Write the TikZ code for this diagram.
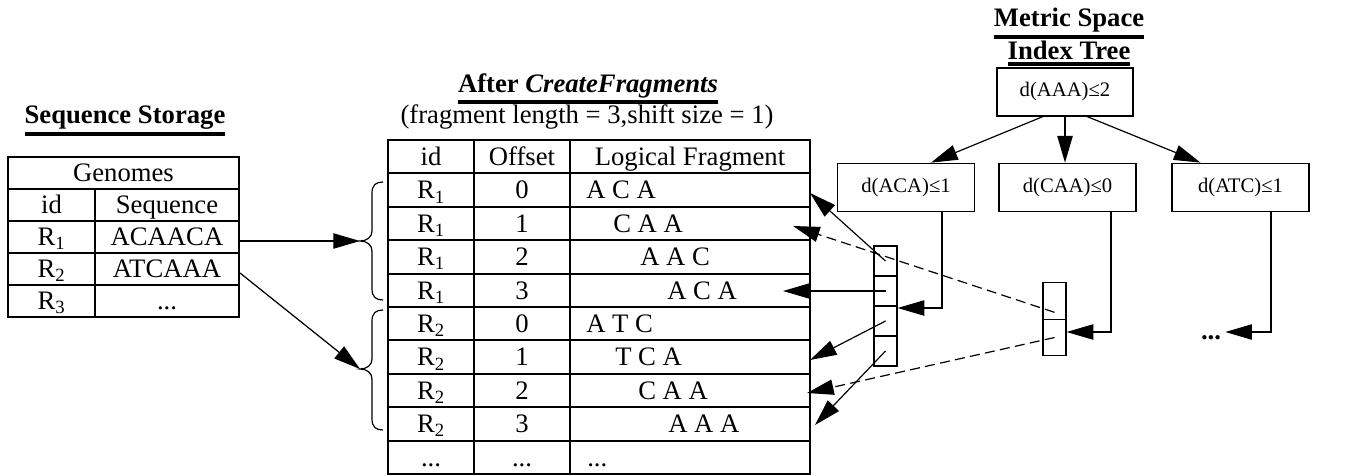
\documentclass[tikz,border=0pt]{standalone}
\usepackage{fontspec}
\setmainfont{Liberation Serif}
\usetikzlibrary{arrows.meta,calc}
\newcommand\myul[1]{\leavevmode\vtop{\hbox{#1}\kern2pt\hrule height 3pt}}
\newcommand\tdots{...}
\begin{document}
\begin{tikzpicture}[x=0.75pt,y=-0.75pt,
  every node/.style={font=\fontsize{20}{24}\selectfont},
  cellbox/.style={draw,line width=1.5pt,inner sep=0pt,text height=13.2pt,text depth=0pt},
  gcell/.style={cellbox,minimum height=24pt},
  fcell/.style={cellbox,minimum height=25.05pt},
  fragtext/.style={anchor=west,inner sep=0pt,text height=13.2pt,text depth=0pt},
  treebox/.style={draw,line width=0.8pt,font=\fontsize{15.5}{18}\selectfont,inner sep=0pt,minimum width=102.75pt,minimum height=36.5pt},
  slot/.style={draw,line width=0.9pt,inner sep=0pt,minimum width=17.25pt},
  arr/.style={line width=0.9pt,-{Triangle[length=20pt,width=11.5pt]}},
  dasharr/.style={arr,dash pattern=on 7.5pt off 4pt},
]
\useasboundingbox (0,0) rectangle (1351,475);

% ---------- titles ----------
\node[anchor=base] (tseq) at (125,123.5) {\myul{\textbf{Sequence Storage}}};
\node[anchor=base] (tfrag) at (588,92) {\myul{\textbf{After \textit{CreateFragments}}}};
\node[anchor=base] (tparam) at (587,123) {(fragment length = 3,shift size = 1)};
\node[anchor=base] (ttree1) at (1069,26.5) {\myul{\textbf{Metric Space}}};
\node[anchor=base] (ttree2) at (1069,59.5) {\myul{\textbf{Index Tree}}};

% ---------- sequence storage table ----------
\node[gcell,minimum width=173.25pt] (gh) at (123.5,173) {Genomes};
\node[gcell,minimum width=65.25pt] (gi) at (51.5,205) {id};
\node[gcell,minimum width=108pt] (gs) at (167,205) {Sequence};
\node[gcell,minimum width=65.25pt] (g1i) at (51.5,237) {R\textsubscript{1}};
\node[gcell,minimum width=108pt] (g1s) at (167,237) {ACAACA};
\node[gcell,minimum width=65.25pt] (g2i) at (51.5,269) {R\textsubscript{2}};
\node[gcell,minimum width=108pt] (g2s) at (167,269) {ATCAAA};
\node[gcell,minimum width=65.25pt] (g3i) at (51.5,301) {R\textsubscript{3}};
\node[gcell,minimum width=108pt] (g3s) at (167,301) {\tdots};

% ---------- fragment table ----------
\node[fcell,minimum width=64.5pt] (fhi) at (431,156.7) {id};
\node[fcell,minimum width=72pt] (fho) at (522,156.7) {Offset};
\node[fcell,minimum width=180pt] (fhc) at (690,156.7) {Logical Fragment};
\foreach \id/\off/\fx/\fr [count=\k] in {%
  R\textsubscript{1}/0/586/A C A,
  R\textsubscript{1}/1/613/C A A,
  R\textsubscript{1}/2/640/A A C,
  R\textsubscript{1}/3/667/A C A,
  R\textsubscript{2}/0/586/A T C,
  R\textsubscript{2}/1/615/T C A,
  R\textsubscript{2}/2/638/C A A,
  R\textsubscript{2}/3/668/A A A,
  \tdots/\tdots/587/\tdots}{
  \pgfmathsetmacro\ry{156.7+33.4*\k}
  \node[fcell,minimum width=64.5pt] (f\k i) at (431,\ry) {\id};
  \node[fcell,minimum width=72pt] (f\k o) at (522,\ry) {\off};
  \node[fcell,minimum width=180pt] (f\k c) at (690,\ry) {};
  \node[fragtext] (f\k t) at (\fx,\ry) {\fr};
}

% ---------- braces ----------
\coordinate (br1) at (360,241);
\coordinate (br2) at (360,369);
\draw[line width=0.9pt] (383,182) .. controls (376,182) and (372,185) .. (372,193) -- (372,231)
  .. controls (372,237) and (367,241) .. (br1) .. controls (367,241) and (372,245) .. (372,251)
  -- (372,289) .. controls (372,297) and (376,300) .. (383,300);
\draw[line width=0.9pt] (383,310) .. controls (376,310) and (372,313) .. (372,321) -- (372,359)
  .. controls (372,365) and (367,369) .. (br2) .. controls (367,369) and (372,373) .. (372,379)
  -- (372,419) .. controls (372,427) and (376,430) .. (383,430);

\draw[arr] (g1s.east |- br1) -- (br1);
\draw[arr] ($(g2s.east)+(0,4)$) -- (br2);

% ---------- index tree ----------
\node[treebox,minimum width=102pt,minimum height=36pt] (root) at (1065,92) {d(AAA)≤2};
\node[treebox] (lc) at (906,187.5) {d(ACA)≤1};
\node[treebox] (mc) at (1067.5,187.5) {d(CAA)≤0};
\node[treebox] (rc) at (1240.5,187.5) {d(ATC)≤1};
\draw[arr] ($(root.south)+(-22,0)$) -- ($(lc.north)+(25,0)$);
\draw[arr] (root.south) -- (root.south |- mc.north);
\draw[arr] ($(root.south)+(22,0)$) -- ($(rc.north)+(-40,0)$);

% ---------- leaf buckets ----------
\node[slot,minimum height=22.5pt] (a1) at (885.5,261) {};
\node[slot,minimum height=22.5pt] (a2) at (885.5,291) {};
\node[slot,minimum height=22.5pt] (a3) at (885.5,321) {};
\node[slot,minimum height=22.5pt] (a4) at (885.5,351) {};
\node[slot,minimum height=27.4pt] (b1) at (1054.5,301) {};
\node[slot,minimum height=27.4pt] (b2) at (1054.5,337.5) {};
\node[anchor=base,inner sep=3pt,font=\fontsize{20}{22}\selectfont\bfseries] (dots) at (1211,339) {\tdots};

\coordinate (cA) at (942,308);
\coordinate (cB) at (1111,332);
\coordinate (cC) at (1271,332);
\draw[arr] (lc.south -| cA) |- (a3.east |- cA);
\draw[arr] (mc.south -| cB) |- (b2.east |- cB);
\draw[arr] (rc.south -| cC) |- (dots.east |- cC);

% ---------- pointers into fragments ----------
\coordinate (t1) at (810,193);
\coordinate (t2) at (793,226);
\coordinate (t3) at (783,291);
\coordinate (t4) at (810,360);
\coordinate (t5) at (807,393);
\coordinate (t6) at (815,425);
\draw[arr] (a1.center) -- (t1);
\draw[dasharr] ($(b1.center)!0.6!(b1.south)$) -- (t2);
\draw[arr] (a2.center) -- (t3);
\draw[arr] (a3.center) -- (t4);
\draw[dasharr] (b2.center) -- (t5);
\draw[arr] (a4.center) -- (t6);
\end{tikzpicture}
\end{document}
